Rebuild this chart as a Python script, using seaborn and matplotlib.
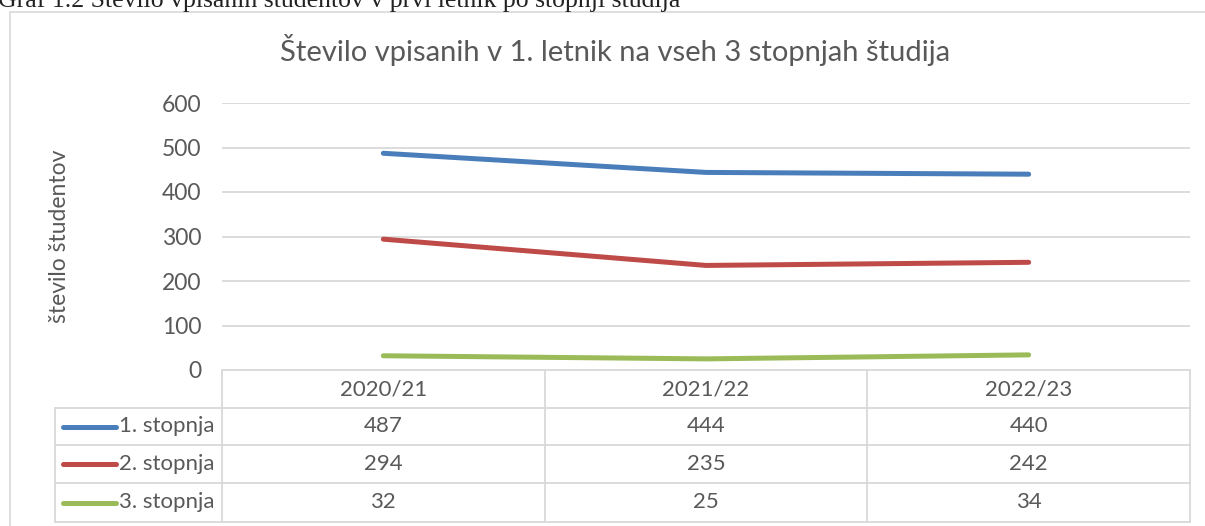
import pandas as pd
import matplotlib
matplotlib.use("Agg")
import matplotlib.pyplot as plt
import seaborn as sns

# --- data
years = ['2020/21', '2021/22', '2022/23']
stopnje = ['1. stopnja', '2. stopnja', '3. stopnja']
stopnja_1 = [487, 444, 440]
stopnja_2 = [294, 235, 242]
stopnja_3 = [32, 25, 34]
colors = ['#4a7ebb', '#be4b48', '#9bbb59']

df = pd.DataFrame({
    'leto': years * 3,
    'stopnja': [s for s in stopnje for _ in years],
    'n': stopnja_1 + stopnja_2 + stopnja_3,
})

W, H = 1205, 526
txt = '#595959'
grid = '#d9d9d9'

sns.set_style('white')
plt.rcParams['font.family'] = ['Lato', 'DejaVu Sans']

fig = plt.figure(figsize=(W / 100, H / 100), dpi=100)

# plot area in pixels
L, R, T, B = 222, 1190, 103, 370
ax = fig.add_axes([L / W, 1 - B / H, (R - L) / W, (B - T) / H])
sns.lineplot(data=df, x='leto', y='n', hue='stopnja', palette=colors,
             lw=3.6, sort=False, legend=False, ax=ax,
             solid_capstyle='round')
ax.set_xlim(-0.5, 2.5)
ax.set_ylim(0, 600)
ax.set_yticks(range(0, 601, 100))
ax.set_xticks([])
ax.set_xlabel('')
ax.set_ylabel('')
ax.tick_params(axis='y', length=0, pad=15, labelsize=16.5, labelcolor=txt)
for s in ax.spines.values():
    s.set_visible(False)
ax.grid(axis='y', color=grid, lw=1.3)
ax.set_axisbelow(True)

# overlay in pixel coords for frame, titles and data table
ov = fig.add_axes([0, 0, 1, 1], zorder=-1)
ov.set_xlim(0, W)
ov.set_ylim(H, 0)
ov.axis('off')

# chart frame (left and top edges visible)
ov.plot([9.5, 9.5], [H + 5, 12], color=grid, lw=1.2)
ov.plot([9.5, W + 5], [12, 12], color=grid, lw=1.2)

# document caption, cut by the top edge
ov.text(-2, 7, 'Graf 1.2 Število vpisanih študentov v prvi letnik po stopnji študija',
        family='Liberation Serif', fontsize=18.5, color='#222222', va='baseline', ha='left')

ov.text(615, 50, 'Število vpisanih v 1. letnik na vseh 3 stopnjah študija',
        fontsize=21, color=txt, ha='center', va='center')
ov.text(60, 236, 'število študentov', rotation=90, fontsize=16.5,
        color=txt, ha='center', va='center')

# data table
col_w = (R - L) / len(years)
rows_y = [370, 408, 445, 483, 522]
LEG = 55
lw_t = 1.3
ov.plot([L, R], [rows_y[0], rows_y[0]], color=grid, lw=lw_t)
for y in rows_y[1:]:
    ov.plot([LEG, R], [y, y], color=grid, lw=lw_t)
for i in range(len(years) + 1):
    x = L + i * col_w
    ov.plot([x, x], [rows_y[0], rows_y[-1]], color=grid, lw=lw_t)
ov.plot([LEG, LEG], [rows_y[1], rows_y[-1]], color=grid, lw=lw_t)

for i, yr in enumerate(years):
    ov.text(L + (i + 0.5) * col_w, (rows_y[0] + rows_y[1]) / 2, yr,
            fontsize=16, color=txt, ha='center', va='center')

series = [stopnja_1, stopnja_2, stopnja_3]
for r, (name, vals, c) in enumerate(zip(stopnje, series, colors)):
    yc = (rows_y[r + 1] + rows_y[r + 2]) / 2
    ov.plot([63, 116], [yc, yc], color=c, lw=3.6, solid_capstyle='round')
    ov.text(119, yc, name, fontsize=16, color=txt, ha='left', va='center')
    for i, v in enumerate(vals):
        ov.text(L + (i + 0.5) * col_w, yc, str(v),
                fontsize=16, color=txt, ha='center', va='center')

fig.savefig('out.png', dpi=100)
